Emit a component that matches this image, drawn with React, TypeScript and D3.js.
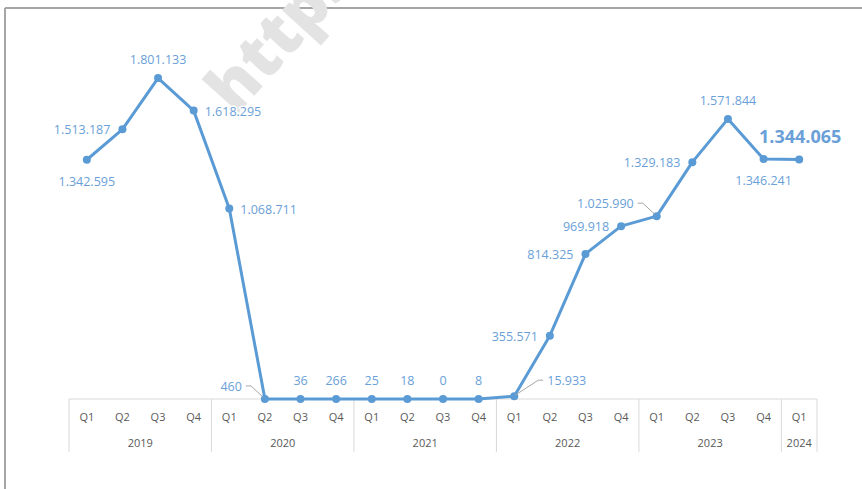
import { useMemo } from "react";
import * as d3 from "d3";

const years = ["2019", "2020", "2021", "2022", "2023", "2024"];
const quarters = [
  "Q1", "Q2", "Q3", "Q4",
  "Q1", "Q2", "Q3", "Q4",
  "Q1", "Q2", "Q3", "Q4",
  "Q1", "Q2", "Q3", "Q4",
  "Q1", "Q2", "Q3", "Q4",
  "Q1",
];
const quarterYear = [
  "2019", "2019", "2019", "2019",
  "2020", "2020", "2020", "2020",
  "2021", "2021", "2021", "2021",
  "2022", "2022", "2022", "2022",
  "2023", "2023", "2023", "2023",
  "2024",
];
const values = [
  1342595, 1513187, 1801133, 1618295,
  1068711, 460, 36, 266,
  25, 18, 0, 8,
  15933, 355571, 814325, 969918,
  1025990, 1329183, 1571844, 1346241,
  1344065,
];
// where each data label sits relative to its point
const labelPlacement = [
  "below", "left", "above", "right",
  "right", "leaderLeft", "above", "above",
  "above", "above", "above", "above",
  "leaderRight", "left", "left", "left",
  "leaderLeft", "left", "above", "below",
  "last",
];

const W = 862;
const H = 489;
const LINE = "#5b9bd5";
const LABEL = "#6a9fd8";
const GRID = "#d9d9d9";
const FONT = "'Open Sans', sans-serif";

const fmt = d3.formatLocale({ decimal: ",", thousands: ".", grouping: [3], currency: ["", ""] }).format(",d");

export default function App() {
  const keys = quarters.map((q, i) => `${quarterYear[i]}-${q}`);

  const x = useMemo(() => d3.scaleBand<string>().domain(keys).range([69, 817]), []);
  const y = useMemo(() => d3.scaleLinear().domain([0, 2000000]).range([399, 42.6]), []);

  const pts = values.map((v, i) => ({ v, cx: x(keys[i])! + x.bandwidth() / 2, cy: y(v), place: labelPlacement[i] }));
  const line = d3.line<{ cx: number; cy: number }>().x(d => d.cx).y(d => d.cy)(pts)!;

  const yearSpans = years.map(yr => {
    const idx = quarterYear.map((q, i) => (q === yr ? i : -1)).filter(i => i >= 0);
    const x0 = x(keys[idx[0]])!;
    const x1 = x(keys[idx[idx.length - 1]])! + x.bandwidth();
    return { yr, x0, x1 };
  });

  const axisY = y(0);

  return (
    <svg width={W} height={H} style={{ position: "absolute", left: 0, top: 0, background: "#fff" }}>
      {/* frame */}
      <line x1={5} x2={W} y1={8} y2={8} stroke="#a6a6a6" strokeWidth={2} />
      <line x1={5} x2={5} y1={8} y2={H} stroke="#a6a6a6" strokeWidth={2} />

      {/* watermark */}
      <text
        transform="translate(236,116) rotate(-48)"
        fontFamily={FONT}
        fontWeight={800}
        fontSize={66}
        fill="#e3e3e3"
      >
        https://
      </text>

      {/* category axis */}
      <line x1={69} x2={817} y1={axisY} y2={axisY} stroke={GRID} strokeWidth={1} />
      {yearSpans.map(s => (
        <g key={s.yr}>
          <line x1={s.x0} x2={s.x0} y1={axisY} y2={452} stroke={GRID} />
          <text x={(s.x0 + s.x1) / 2} y={447} textAnchor="middle" fontFamily={FONT} fontSize={11} fill="#595959">
            {s.yr}
          </text>
        </g>
      ))}
      <line x1={817} x2={817} y1={axisY} y2={452} stroke={GRID} />
      {quarters.map((q, i) => (
        <text key={i} x={x(keys[i])! + x.bandwidth() / 2} y={421} textAnchor="middle" fontFamily={FONT} fontSize={11} fill="#595959">
          {q}
        </text>
      ))}

      {/* series */}
      <path d={line} fill="none" stroke={LINE} strokeWidth={3} strokeLinejoin="round" />
      {pts.map((p, i) => (
        <circle key={i} cx={p.cx} cy={p.cy} r={4} fill={LINE} />
      ))}

      {/* data labels */}
      {pts.map((p, i) => {
        const t = fmt(p.v);
        const common = { fontFamily: FONT, fontSize: 12.5, fill: LABEL };
        if (p.place === "below")
          return <text key={i} {...common} x={p.cx} y={p.cy + 26} textAnchor="middle">{t}</text>;
        if (p.place === "above")
          return <text key={i} {...common} x={p.cx} y={p.cy - 14} textAnchor="middle">{t}</text>;
        if (p.place === "left")
          return <text key={i} {...common} x={p.cx - 12} y={p.cy + 5} textAnchor="end">{t}</text>;
        if (p.place === "right")
          return (
            <g key={i}>
              <text {...common} x={p.cx + 11} y={p.cy + 5} textAnchor="start" stroke="#fff" strokeWidth={3}>{t}</text>
              <text {...common} x={p.cx + 11} y={p.cy + 5} textAnchor="start">{t}</text>
            </g>
          );
        if (p.place === "leaderLeft")
          return (
            <g key={i}>
              <polyline points={`${p.cx - 19},${p.cy - 13} ${p.cx - 14},${p.cy - 13} ${p.cx - 2},${p.cy - 2}`} fill="none" stroke="#a6a6a6" strokeWidth={1} />
              <text {...common} x={p.cx - 23} y={p.cy - 8} textAnchor="end">{t}</text>
            </g>
          );
        if (p.place === "leaderRight")
          return (
            <g key={i}>
              <polyline points={`${p.cx + 1},${p.cy - 1} ${p.cx + 24},${p.cy - 16} ${p.cx + 29},${p.cy - 16}`} fill="none" stroke="#a6a6a6" strokeWidth={1} />
              <text {...common} x={p.cx + 33} y={p.cy - 11} textAnchor="start">{t}</text>
            </g>
          );
        return (
          <text key={i} fontFamily={FONT} fontSize={18} fontWeight={700} fill={LABEL} x={p.cx + 1} y={p.cy - 16} textAnchor="middle">
            {t}
          </text>
        );
      })}
    </svg>
  );
}
